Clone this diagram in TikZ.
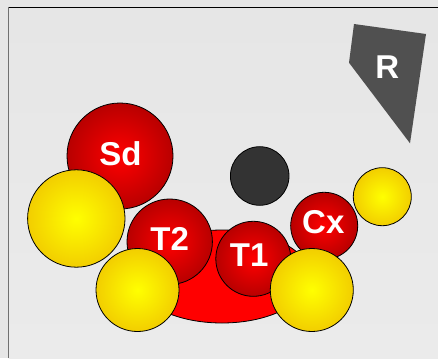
\documentclass[tikz,border=0pt]{standalone}
\usepackage{fontspec}
\setmainfont{Liberation Sans}
\usetikzlibrary{shapes.geometric}
\definecolor{bg}{HTML}{E6E6E6}
\definecolor{bgin}{HTML}{EBEBEB}
\definecolor{redin}{HTML}{FF0000}
\definecolor{redout}{HTML}{B80000}
\definecolor{yelin}{HTML}{FFFF00}
\definecolor{yelout}{HTML}{F2CE00}
\definecolor{darkball}{HTML}{333333}
\definecolor{rgray}{HTML}{505050}
\definecolor{framegray}{HTML}{707070}
\begin{document}
\begin{tikzpicture}[x=1pt,y=-1pt,
  ball/.style={circle,draw=black,line width=0.8pt,inner sep=0pt},
  redball/.style={ball,shading=radial,inner color=redin,outer color=redout},
  yelball/.style={ball,shading=radial,inner color=yelin,outer color=yelout},
  lbl/.style={text=white,font=\fontsize{33}{33}\selectfont\bfseries,anchor=base,inner sep=0pt}]
\useasboundingbox (0,0) rectangle (438,358);
\fill[bg] (0,0) rectangle (438,358);
\shade[top color=bg,bottom color=bgin] (8.5,7.3) rectangle (438,358);
\draw[black,line width=1pt] (8,7.3) -- (438,7.3);
\draw[framegray,line width=1.5pt] (8.5,7) -- (8.5,358);
% red base ellipse
\node[ellipse,draw=black,line width=0.8pt,fill=redin,minimum width=176pt,minimum height=93pt,inner sep=0pt] (base) at (222,276.5) {};
\node[redball,minimum size=106pt] (sd) at (120,156) {};
\node[yelball,minimum size=97.4pt] (y1) at (76.3,218.5) {};
\node[redball,minimum size=85.4pt] (t2) at (169.7,241.7) {};
\node[redball,minimum size=75pt] (t1) at (253.3,258.8) {};
\node[redball,minimum size=67pt] (cx) at (324.2,225.8) {};
\node[ball,fill=darkball,minimum size=58.6pt] (dk) at (259.7,176) {};
\node[yelball,minimum size=58pt] (y2) at (382.3,196.7) {};
\node[yelball,minimum size=83pt] (y3) at (137.5,290) {};
\node[yelball,minimum size=83pt] (y4) at (311.8,290) {};
\fill[rgray] (354,24) -- (426,34) -- (410,143.3) -- (349,62.7) -- cycle;
\node[lbl] (lsd) at (120.5,165) {Sd};
\node[lbl] (lt2) at (169.7,250) {T2};
\node[lbl] (lt1) at (249.2,266.7) {T1};
\node[lbl] (lcx) at (323.3,233.3) {Cx};
\node[lbl] (lr) at (387.2,79) {R};
\end{tikzpicture}
\end{document}
